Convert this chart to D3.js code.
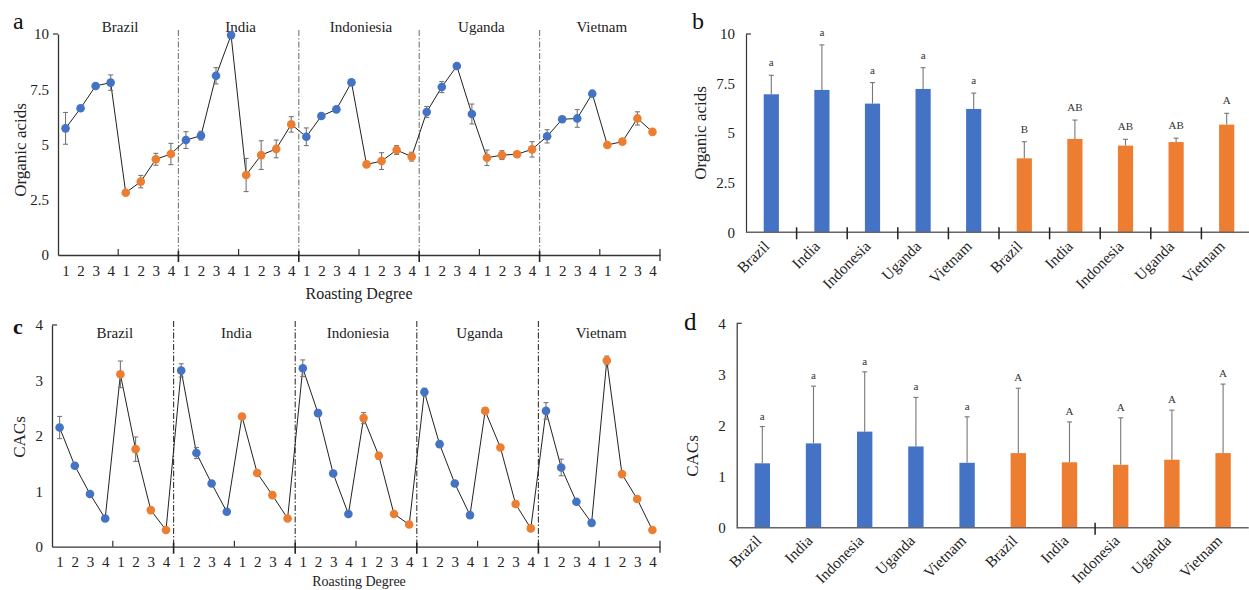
<!DOCTYPE html>
<html>
<head>
<meta charset="utf-8">
<script src="https://cdn.jsdelivr.net/npm/d3@7"></script>
<style>
  html, body { margin: 0; padding: 0; background: #fff; }
  svg { display: block; font-family: "Liberation Serif", "Times New Roman", serif; }
</style>
</head>
<body>
<svg id="fig" width="1249" height="590"></svg>
<script>
// Origins and roasting degrees
const countries = ["Brazil", "India", "Indonesia", "Uganda", "Vietnam"];
const groupHeaders = ["Brazil", "India", "Indoniesia", "Uganda", "Vietnam"];
const degrees = ["1", "2", "3", "4"];

// Organic acids by origin and roasting degree (per origin: 4 blue, then 4 orange)
const acidsBlue = [5.73, 6.64, 7.65, 7.80, 5.20, 5.40, 8.11, 9.95, 5.35, 6.29, 6.59, 7.81, 6.47, 7.60, 8.55, 6.38, 5.37, 6.14, 6.18, 7.30];
const acidsBlueErr = [0.72, 0.12, 0.10, 0.35, 0.38, 0.20, 0.37, 0.15, 0.40, 0.10, 0.10, 0.10, 0.25, 0.25, 0.10, 0.45, 0.30, 0.10, 0.40, 0.10];
const acidsOrange = [2.82, 3.32, 4.33, 4.57, 3.62, 4.52, 4.80, 5.91, 4.10, 4.25, 4.75, 4.45, 4.40, 4.52, 4.56, 4.78, 4.98, 5.13, 6.18, 5.57];
const acidsOrangeErr = [0.05, 0.28, 0.27, 0.48, 0.75, 0.65, 0.40, 0.35, 0.10, 0.38, 0.20, 0.20, 0.35, 0.20, 0.10, 0.35, 0.10, 0.10, 0.30, 0.10];

// CACs by origin and roasting degree
const cacsBlue = [2.15, 1.46, 0.95, 0.51, 3.18, 1.69, 1.14, 0.63, 3.22, 2.41, 1.32, 0.59, 2.79, 1.85, 1.14, 0.57, 2.45, 1.43, 0.81, 0.43];
const cacsBlueErr = [0.20, 0.04, 0.04, 0.04, 0.12, 0.10, 0.04, 0.04, 0.15, 0.06, 0.04, 0.04, 0.07, 0.04, 0.04, 0.04, 0.15, 0.15, 0.04, 0.04];
const cacsOrange = [3.11, 1.76, 0.66, 0.30, 2.35, 1.33, 0.93, 0.51, 2.32, 1.64, 0.59, 0.40, 2.45, 1.79, 0.77, 0.33, 3.36, 1.31, 0.86, 0.30];
const cacsOrangeErr = [0.24, 0.22, 0.04, 0.04, 0.05, 0.04, 0.04, 0.04, 0.10, 0.06, 0.04, 0.04, 0.05, 0.05, 0.04, 0.04, 0.08, 0.04, 0.04, 0.04];

// Means per origin
const meanAcidsBlue = [6.96, 7.18, 6.49, 7.23, 6.22];
const meanAcidsBlueErr = [0.96, 2.27, 1.06, 1.07, 0.80];
const meanAcidsOrange = [3.73, 4.71, 4.37, 4.55, 5.43];
const meanAcidsOrangeErr = [0.84, 0.95, 0.32, 0.20, 0.57];
const acidsLettersBlue = ["a", "a", "a", "a", "a"];
const acidsLettersOrange = ["B", "AB", "AB", "AB", "A"];

const meanCacsBlue = [1.26, 1.65, 1.88, 1.59, 1.27];
const meanCacsBlueErr = [0.72, 1.12, 1.17, 0.96, 0.90];
const meanCacsOrange = [1.46, 1.28, 1.23, 1.33, 1.46];
const meanCacsOrangeErr = [1.27, 0.79, 0.92, 0.97, 1.35];
const cacsLettersBlue = ["a", "a", "a", "a", "a"];
const cacsLettersOrange = ["A", "A", "A", "A", "A"];

const acidsTicks = [0, 2.5, 5, 7.5, 10];
const cacsTicks = [0, 1, 2, 3, 4];

const BLUE = "#4472c4";
const ORANGE = "#ed7d31";
const ERR = "#777";

const svg = d3.select("#fig");

// Interleave the two roasting series into one sequence per origin
function sequence(blue, blueErr, orange, orangeErr) {
  const out = [];
  countries.forEach((c, ci) => {
    for (let k = 0; k < 4; k++) out.push({ v: blue[ci * 4 + k], e: blueErr[ci * 4 + k], color: BLUE, deg: degrees[k] });
    for (let k = 0; k < 4; k++) out.push({ v: orange[ci * 4 + k], e: orangeErr[ci * 4 + k], color: ORANGE, deg: degrees[k] });
  });
  return out;
}

function fmt(d) { return String(d); }

function linePanel(opt) {
  const g = svg.append("g");
  const pts = opt.data;
  const x = d3.scalePoint().domain(d3.range(pts.length)).range([opt.x0, opt.x1]).padding(0.5);
  const step = x.step();
  const y = d3.scaleLinear().domain([0, opt.max]).range([opt.y0, opt.y1]);

  // y axis
  const ya = g.append("g").attr("transform", `translate(${opt.x0},0)`)
    .call(d3.axisLeft(y).tickValues(opt.ticks).tickSize(0).tickPadding(9).tickFormat(fmt));
  ya.select(".domain").attr("stroke", "#333").attr("stroke-width", 1.3);
  ya.selectAll("text").attr("font-size", 15).attr("fill", "#222").attr("font-family", "Liberation Serif");
  g.append("line").attr("x1", opt.x0).attr("x2", opt.x0 + opt.capDir * 5)
    .attr("y1", y(opt.max)).attr("y2", y(opt.max)).attr("stroke", "#333").attr("stroke-width", 1.2);

  // x axis with degree labels
  const xa = g.append("g").attr("transform", `translate(0,${opt.y0})`)
    .call(d3.axisBottom(x).tickSize(0).tickPadding(10).tickFormat(i => pts[i].deg));
  xa.select(".domain").attr("stroke", "#333").attr("stroke-width", 1.3);
  xa.selectAll("text").attr("font-size", 15).attr("fill", "#222").attr("font-family", "Liberation Serif");

  // group boundaries and mid ticks
  for (let gi = 0; gi < countries.length; gi++) {
    const left = x(gi * 8) - step / 2;
    const mid = x(gi * 8 + 4) - step / 2;
    const right = x(gi * 8 + 7) + step / 2;
    g.append("line").attr("x1", mid).attr("x2", mid).attr("y1", opt.y0 - 6).attr("y2", opt.y0)
      .attr("stroke", "#333").attr("stroke-width", 1.2);
    if (gi > 0) {
      g.append("line").attr("x1", left).attr("x2", left).attr("y1", y(opt.max) - 4).attr("y2", opt.y0)
        .attr("stroke", opt.sepColor).attr("stroke-width", 1.1).attr("stroke-dasharray", "6,2,1.5,2");
      g.append("line").attr("x1", left).attr("x2", left).attr("y1", opt.y0 - 4).attr("y2", opt.y0 + 7)
        .attr("stroke", "#222").attr("stroke-width", 1.6);
    }
    if (gi === countries.length - 1) {
      g.append("line").attr("x1", right).attr("x2", right).attr("y1", opt.y0 - 6).attr("y2", opt.y0 + 6)
        .attr("stroke", "#333").attr("stroke-width", 1.3);
    }
    g.append("text").attr("x", (left + right) / 2 + 2).attr("y", opt.headerY)
      .attr("text-anchor", "middle").attr("font-size", 15).attr("fill", "#222").text(groupHeaders[gi]);
  }

  // connecting line
  g.append("path").datum(pts)
    .attr("d", d3.line().x((d, i) => x(i)).y(d => y(d.v)))
    .attr("fill", "none").attr("stroke", "#222").attr("stroke-width", 1);

  // error bars
  const eb = g.append("g").attr("stroke", ERR).attr("stroke-width", 1.1);
  pts.forEach((d, i) => {
    const cx = x(i);
    eb.append("line").attr("x1", cx).attr("x2", cx).attr("y1", y(d.v - d.e)).attr("y2", y(d.v + d.e));
    eb.append("line").attr("x1", cx - 2.5).attr("x2", cx + 2.5).attr("y1", y(d.v + d.e)).attr("y2", y(d.v + d.e));
    eb.append("line").attr("x1", cx - 2.5).attr("x2", cx + 2.5).attr("y1", y(d.v - d.e)).attr("y2", y(d.v - d.e));
  });

  // markers
  g.selectAll("circle.m").data(pts).join("circle")
    .attr("cx", (d, i) => x(i)).attr("cy", d => y(d.v)).attr("r", 4.3).attr("fill", d => d.color);

  // titles
  g.append("text").attr("transform", `translate(${opt.titleX},${opt.titleY}) rotate(-90)`)
    .attr("text-anchor", "middle").attr("font-size", 17).attr("fill", "#222").text(opt.yTitle);
  g.append("text").attr("x", 359).attr("y", opt.xTitleY).attr("text-anchor", "middle")
    .attr("font-size", opt.xTitleSize).attr("fill", "#222").text("Roasting Degree");
}

function barPanel(opt) {
  const g = svg.append("g");
  const vals = opt.blue.concat(opt.orange);
  const errs = opt.blueErr.concat(opt.orangeErr);
  const letters = opt.lettersBlue.concat(opt.lettersOrange);
  const names = countries.concat(countries);
  const x = d3.scaleBand().domain(d3.range(vals.length)).range([opt.x0, opt.x1]).paddingInner(0.7).paddingOuter(0.35);
  const y = d3.scaleLinear().domain([0, opt.max]).range([opt.y0, opt.y1]);

  const ya = g.append("g").attr("transform", `translate(${opt.x0},0)`)
    .call(d3.axisLeft(y).tickValues(opt.ticks).tickSize(0).tickPadding(11).tickFormat(fmt));
  ya.select(".domain").attr("stroke", "#333").attr("stroke-width", 1.2);
  ya.selectAll("text").attr("font-size", 15).attr("fill", "#222").attr("font-family", "Liberation Serif");
  g.append("line").attr("x1", opt.x0).attr("x2", opt.x0 + 5).attr("y1", y(opt.max)).attr("y2", y(opt.max))
    .attr("stroke", "#333").attr("stroke-width", 1.2);

  // bars
  g.selectAll("rect.bar").data(vals).join("rect")
    .attr("x", (d, i) => x(i)).attr("width", x.bandwidth())
    .attr("y", d => y(d)).attr("height", d => y(0) - y(d))
    .attr("fill", (d, i) => i < 5 ? BLUE : ORANGE);

  // x axis line
  g.append("line").attr("x1", opt.x0).attr("x2", opt.x1).attr("y1", opt.y0).attr("y2", opt.y0)
    .attr("stroke", "#666").attr("stroke-width", 1.6);
  opt.boundaryTicks.forEach(b => {
    const bx = x(b) - x.step() * x.paddingInner() / 2;
    g.append("line").attr("x1", bx).attr("x2", bx).attr("y1", opt.y0 - 5).attr("y2", opt.y0 + 7)
      .attr("stroke", "#222").attr("stroke-width", 1.5);
  });

  // upper error bars and letters
  vals.forEach((v, i) => {
    const cx = x(i) + x.bandwidth() / 2;
    const top = y(v + errs[i]);
    g.append("line").attr("x1", cx).attr("x2", cx).attr("y1", y(v)).attr("y2", top).attr("stroke", ERR).attr("stroke-width", 1.1);
    g.append("line").attr("x1", cx - 2.5).attr("x2", cx + 2.5).attr("y1", top).attr("y2", top).attr("stroke", ERR).attr("stroke-width", 1.1);
    g.append("text").attr("x", cx).attr("y", top - opt.letterGap).attr("text-anchor", "middle")
      .attr("font-size", 11).attr("fill", "#333").text(letters[i]);
  });

  // category labels
  names.forEach((n, i) => {
    const cx = x(i) + x.bandwidth() / 2;
    g.append("text").attr("transform", `translate(${cx + opt.labelDx},${opt.y0 + opt.labelDy}) rotate(-45)`)
      .attr("text-anchor", "end").attr("font-size", 15.5).attr("fill", "#222").text(n);
  });

  g.append("text").attr("transform", `translate(${opt.titleX},${opt.titleY}) rotate(-90)`)
    .attr("text-anchor", "middle").attr("font-size", 17).attr("fill", "#222").text(opt.yTitle);
}

linePanel({
  data: sequence(acidsBlue, acidsBlueErr, acidsOrange, acidsOrangeErr),
  x0: 58, x1: 660, y0: 255, y1: 34, max: 10, ticks: acidsTicks, capDir: -1,
  sepColor: "#777", headerY: 32, titleX: 26, titleY: 150, yTitle: "Organic acids", xTitleY: 299, xTitleSize: 16
});

linePanel({
  data: sequence(cacsBlue, cacsBlueErr, cacsOrange, cacsOrangeErr),
  x0: 52, x1: 660, y0: 546.7, y1: 325, max: 4, ticks: cacsTicks, capDir: 1,
  sepColor: "#333", headerY: 338, titleX: 25, titleY: 437, yTitle: "CACs", xTitleY: 586, xTitleSize: 14
});

barPanel({
  blue: meanAcidsBlue, blueErr: meanAcidsBlueErr, orange: meanAcidsOrange, orangeErr: meanAcidsOrangeErr,
  lettersBlue: acidsLettersBlue, lettersOrange: acidsLettersOrange,
  x0: 746, x1: 1252, y0: 232.3, y1: 34, max: 10, ticks: acidsTicks,
  boundaryTicks: [1, 2, 3, 4, 5, 6, 7, 8, 9], letterGap: 9, labelDx: -1, labelDy: 15,
  titleX: 706, titleY: 133, yTitle: "Organic acids"
});

barPanel({
  blue: meanCacsBlue, blueErr: meanCacsBlueErr, orange: meanCacsOrange, orangeErr: meanCacsOrangeErr,
  lettersBlue: cacsLettersBlue, lettersOrange: cacsLettersOrange,
  x0: 736.7, x1: 1248.7, y0: 527.7, y1: 323.3, max: 4, ticks: cacsTicks,
  boundaryTicks: [7], letterGap: 7, labelDx: 0, labelDy: 14,
  titleX: 698, titleY: 456, yTitle: "CACs"
});

// panel letters
svg.append("text").attr("x", 13).attr("y", 29).attr("font-size", 24).attr("fill", "#111").text("a");
svg.append("text").attr("x", 692).attr("y", 29).attr("font-size", 24).attr("fill", "#111").text("b");
svg.append("text").attr("x", 13).attr("y", 334).attr("font-size", 22).attr("font-weight", "bold").attr("fill", "#111").text("c");
svg.append("text").attr("x", 684).attr("y", 330).attr("font-size", 25).attr("fill", "#111").text("d");
</script>
</body>
</html>
